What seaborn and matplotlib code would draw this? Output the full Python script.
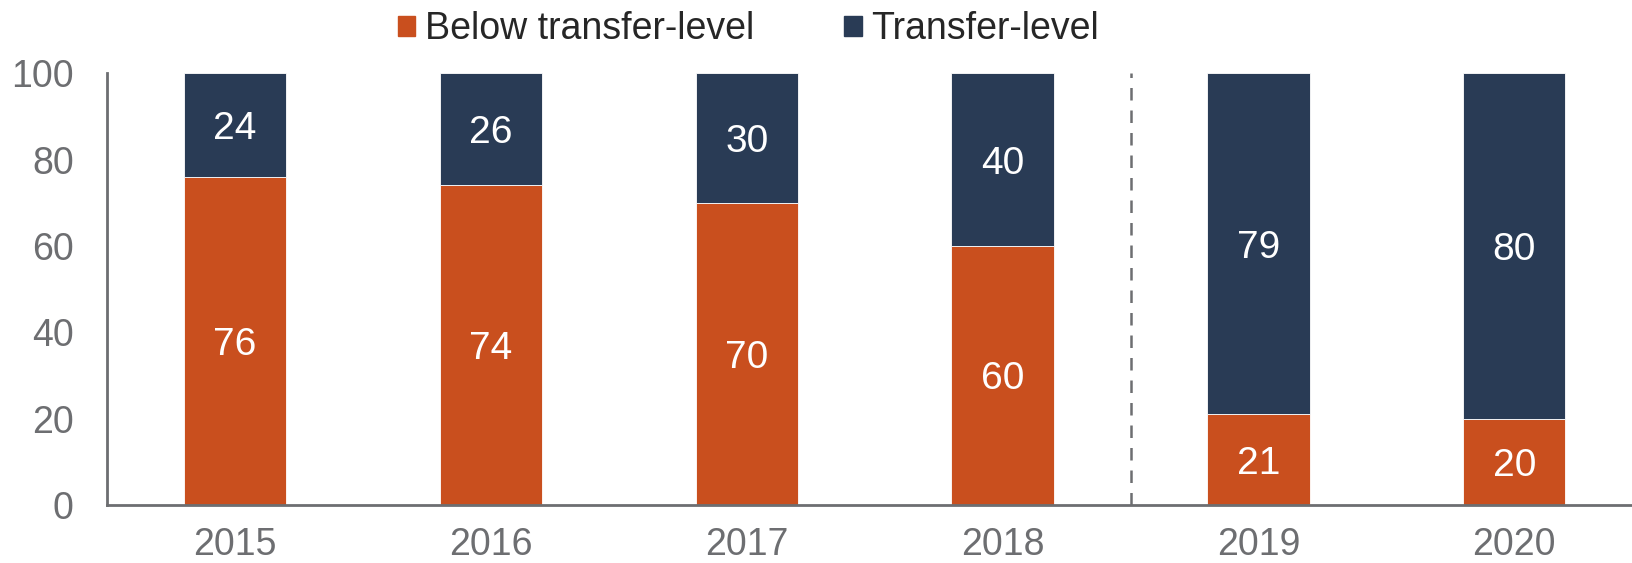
import pandas as pd
import matplotlib.pyplot as plt
import seaborn as sns

years = ['2015', '2016', '2017', '2018', '2019', '2020']
below_transfer = [76, 74, 70, 60, 21, 20]
transfer_level = [24, 26, 30, 40, 79, 80]

orange = '#C94F1E'
navy = '#293B55'
grey = '#6D6E71'

df = pd.DataFrame({'year': years, 'below': below_transfer, 'transfer': transfer_level})

sns.set_style('white')
plt.rcParams['font.family'] = ['Liberation Sans', 'DejaVu Sans']

fig = plt.figure(figsize=(16.32, 5.63), dpi=100, facecolor='white')
ax = fig.add_axes([0.0656, 0.103, 0.9344, 0.767])

# stacked bars: below transfer-level at the bottom, transfer-level on top
sns.barplot(data=df, x='year', y='below', color=orange, width=0.4,
            saturation=1, edgecolor='white', linewidth=0.6, ax=ax)
sns.barplot(data=df, x='year', y='transfer', color=navy, width=0.4,
            saturation=1, edgecolor='white', linewidth=0.6,
            bottom=df['below'], ax=ax)

# value labels in the middle of each segment
for i, (b, t) in enumerate(zip(below_transfer, transfer_level)):
    ax.text(i, b / 2, str(b), ha='center', va='center_baseline', color='white', fontsize=28)
    ax.text(i, b + t / 2, str(t), ha='center', va='center_baseline', color='white', fontsize=28)

# dashed separator between 2018 and 2019
ax.plot([3.5, 3.5], [0, 100], linestyle=(0, (5, 4)), color=grey, linewidth=1.8)

ax.set_xlim(-0.5, 5.46)
ax.set_ylim(0, 100)
ax.set_yticks([0, 20, 40, 60, 80, 100])
ax.set_xlabel('')
ax.set_ylabel('')
ax.tick_params(axis='both', length=0, labelsize=27, labelcolor=grey)
ax.tick_params(axis='y', pad=24)
ax.tick_params(axis='x', pad=16)

for side in ['top', 'right']:
    ax.spines[side].set_visible(False)
for side in ['left', 'bottom']:
    ax.spines[side].set_color(grey)
    ax.spines[side].set_linewidth(2)

handles = [plt.Rectangle((0, 0), 1, 1, color=orange),
           plt.Rectangle((0, 0), 1, 1, color=navy)]
fig.legend(handles, ['Below transfer-level', 'Transfer-level'], loc='center',
           bbox_to_anchor=(0.4585, 0.948), ncol=2, frameon=False, fontsize=27,
           handlelength=0.47, handleheight=0.47, handletextpad=0.25,
           columnspacing=2.4)

fig.savefig('out.png', dpi=100, facecolor='white')
